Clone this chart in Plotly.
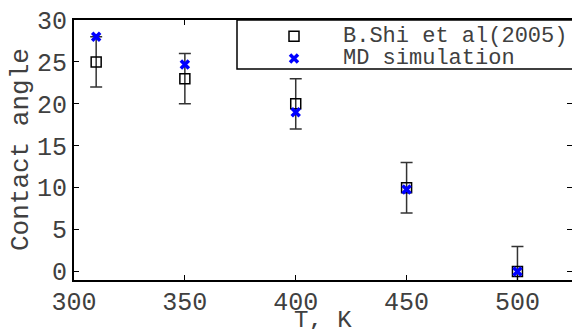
import plotly.graph_objects as go

temps = [310, 350, 400, 450, 500]
shi_angle = [25, 23, 20, 10, 0]
shi_err = [3, 3, 3, 3, 3]
md_temps = [310, 350, 400, 450, 500]
md_angle = [28, 24.7, 19, 9.8, 0]
x_ticks = [300, 350, 400, 450, 500]
y_ticks = [0, 5, 10, 15, 20, 25, 30]

FONT = "Liberation Mono"
TXT = "#404040"
LEG_FS = 22

fig = go.Figure()
fig.add_trace(go.Scatter(
    x=temps, y=shi_angle, mode="markers",
    name='<span style="font-size:%dpx">B.Shi et al(2005)</span>' % LEG_FS,
    marker=dict(symbol="square-open", size=10, color="black", line=dict(width=1.5, color="black")),
    error_y=dict(type="data", array=shi_err, visible=True, color="#333333", thickness=1.5, width=6),
))
fig.add_trace(go.Scatter(
    x=md_temps, y=md_angle, mode="markers",
    name='<span style="font-size:%dpx">MD simulation</span>' % LEG_FS,
    marker=dict(symbol="x-thin-open", size=8, color="#0000ff", line=dict(width=3.5, color="#0000ff")),
))

L, T, B = 74, 20, 49
W, H = 572, 329
pw = W - L
ph = H - T - B

def px2paperx(px):
    return (px - L) / pw

def px2papery(py):
    return (H - B - py) / ph

fig.add_shape(type="rect", xref="paper", yref="paper",
              x0=px2paperx(237), x1=1.1, y0=px2papery(69), y1=1,
              line=dict(color="black", width=1.5), fillcolor="white", layer="above")

fig.add_annotation(text="T, K", xref="paper", yref="paper",
                   x=0.5, y=px2papery(321), xanchor="center", yanchor="middle",
                   showarrow=False, font=dict(family=FONT, size=24, color=TXT))
fig.add_annotation(text="Contact angle", xref="paper", yref="paper",
                   x=px2paperx(21), y=0.5, xanchor="center", yanchor="middle",
                   textangle=-90, showarrow=False,
                   font=dict(family=FONT, size=26, color=TXT))

fig.update_layout(
    width=W, height=H,
    margin=dict(l=L, r=0, t=T, b=B, autoexpand=False),
    paper_bgcolor="white", plot_bgcolor="white",
    font=dict(family=FONT, color=TXT, size=25),
    showlegend=True,
    legend=dict(
        x=px2paperx(245), y=px2papery(20), xanchor="left", yanchor="top",
        bgcolor="rgba(0,0,0,0)", borderwidth=0,
        font=dict(family=FONT, size=14.9, color=TXT),
        itemwidth=88, tracegroupgap=0,
    ),
    xaxis=dict(
        range=[300, 524.6], tickvals=x_ticks, ticktext=[str(v) for v in x_ticks],
        ticks="inside", ticklen=5, tickwidth=1, tickcolor="black",
        showline=True, linecolor="black", linewidth=2, mirror="ticks",
        showgrid=False, zeroline=False, automargin=False,
        ticklabelstandoff=-2,
        tickfont=dict(family=FONT, size=25, color=TXT),
    ),
    yaxis=dict(
        range=[-1, 30], tickvals=y_ticks, ticktext=[str(v) for v in y_ticks],
        ticks="inside", ticklen=5, tickwidth=1, tickcolor="black",
        showline=True, linecolor="black", linewidth=2, mirror="ticks",
        showgrid=False, zeroline=False, automargin=False,
        tickfont=dict(family=FONT, size=25, color=TXT),
    ),
)

fig.write_html("out.html")
